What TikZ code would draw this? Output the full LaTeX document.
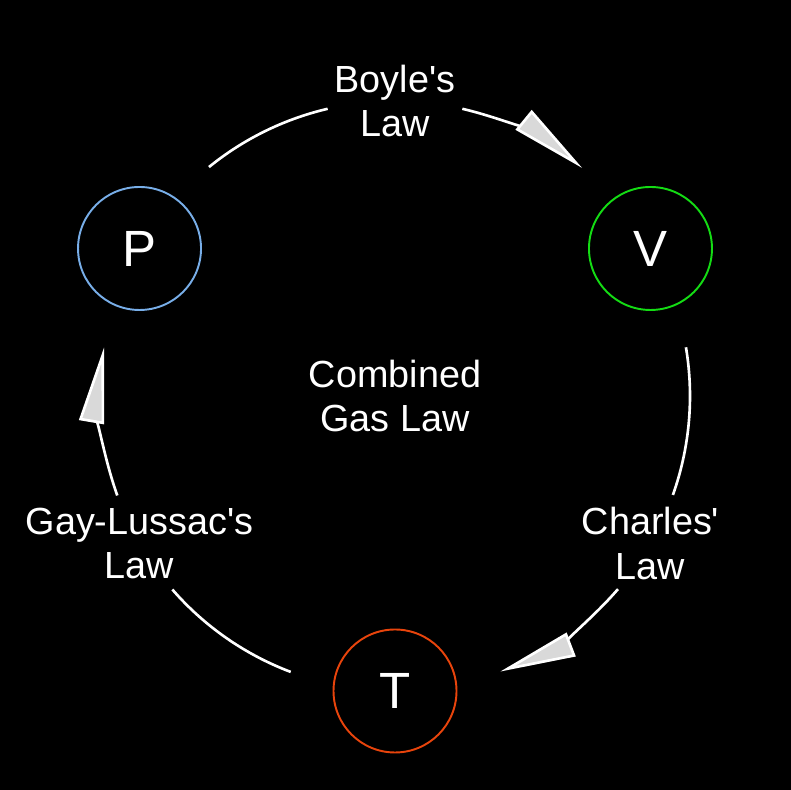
\documentclass[tikz,border=0pt]{standalone}
\usepackage{fontspec}
\setmainfont{Liberation Sans}[Ligatures=TeXOff]
\usetikzlibrary{arrows.meta}
\definecolor{pblue}{RGB}{120,174,232}
\definecolor{vgreen}{RGB}{20,220,20}
\definecolor{tred}{RGB}{232,68,12}
\begin{document}
\begin{tikzpicture}

\tikzset{vertex/.style = {shape=circle,draw,line width=1.1pt,minimum size=2.46cm,text=white,font=\fontsize{29}{34}\selectfont}}
\tikzset{edge/.style = {white,line width=1.5pt,-{Triangle[length=1.52cm,width=0.5cm,fill=gray!30]}}}
\tikzset{law/.style = {text=white,align=center,font=\fontsize{21.5}{25.5}\selectfont}}
\fill[black] (0,0) rectangle (15.82,15.8);
\useasboundingbox (0,0) rectangle (15.82,15.8);
\begin{scope}[shift={(7.9,7.88)}]
%verticies
\node[vertex, draw=pblue] (P) at (150:5.9) {P};
\node[vertex, draw=vgreen] (V) at (30:5.9) {V};
\node[vertex, draw=tred] (T) at (270:5.9) {T};
%labels
\node[law] (boyle) at (90:5.9) {Boyle's\\Law};
\node[law] (charles) at (-30:5.9) {Charles'\\Law};
\node[law] (gay) at (210:5.9) {Gay-Lussac's\\Law};
\node[law] (comb) at (0,0) {Combined\\Gas Law};
%arcs
\draw [white,line width=1.5pt] (129.1:5.9) arc[start angle=129.1, end angle=103.2, radius=5.9];
\draw [edge] (76.8:5.9) arc[start angle=76.8, end angle=50.6, radius=5.9];
\draw [white,line width=1.5pt] (9.5:5.9) arc[start angle=9.5, end angle=-19.6, radius=5.9];
\draw [edge] (-40.9:5.9) arc[start angle=-40.9, end angle=-69.1, radius=5.9];
\draw [white,line width=1.5pt] (249.3:5.9) arc[start angle=249.3, end angle=221, radius=5.9];
\draw [edge] (199.7:5.9) arc[start angle=199.7, end angle=170.5, radius=5.9];
\end{scope}

\end{tikzpicture}
\end{document}
